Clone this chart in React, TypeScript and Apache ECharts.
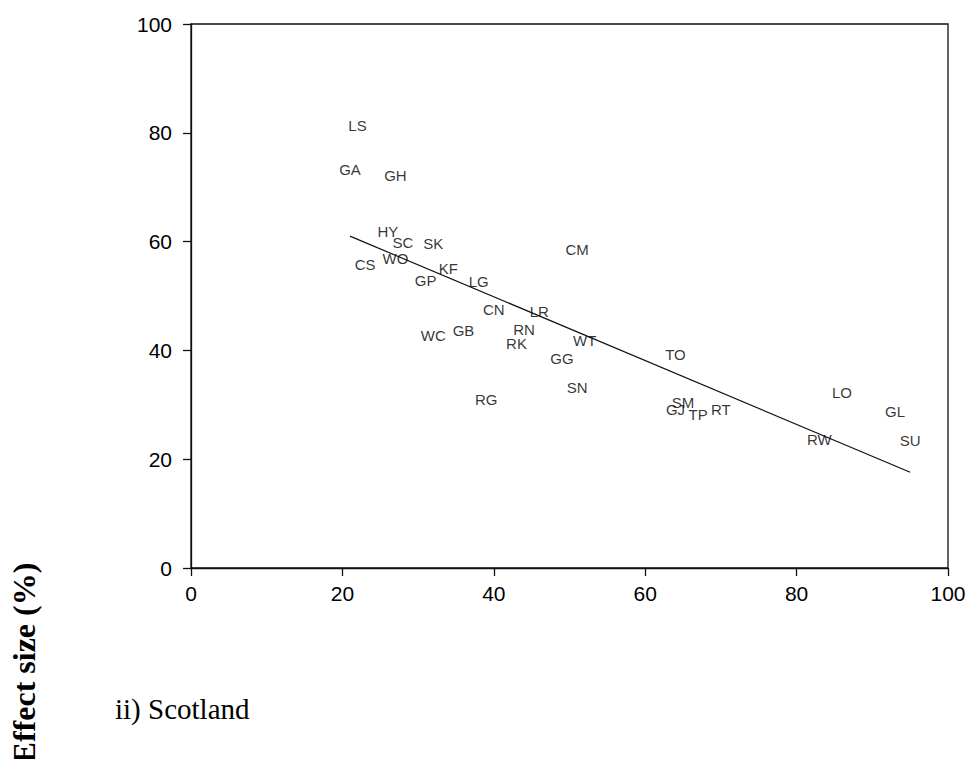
import React, { useEffect, useRef } from "react";
import * as echarts from "echarts";

const siteCodes = ["LS", "GA", "GH", "HY", "SC", "SK", "CM", "CS", "WO", "KF", "GP", "LG", "CN", "LR", "WC", "GB", "RN", "RK", "WT", "GG", "TO", "SN", "RG", "SM", "GJ", "TP", "RT", "LO", "GL", "RW", "SU"];
const xValues = [22, 21, 27, 26, 28, 32, 51, 23, 27, 34, 31, 38, 40, 46, 32, 36, 44, 43, 52, 49, 64, 51, 39, 65, 64, 67, 70, 86, 93, 83, 95];
const yValues = [81.3, 73.2, 72.2, 61.8, 59.9, 59.6, 58.6, 55.7, 56.9, 55.1, 52.8, 52.6, 47.5, 47.2, 42.8, 43.7, 43.9, 41.2, 41.8, 38.5, 39.3, 33.2, 30.9, 30.5, 29.2, 28.3, 29.2, 32.2, 28.7, 23.7, 23.5];
const trendX = [21, 95];
const trendY = [61.0, 17.6];
const xTicks = [0, 20, 40, 60, 80, 100];
const yTicks = [0, 20, 40, 60, 80, 100];
const yTitle = "Effect size (%)";
const panelTitle = "ii) Scotland";

export default function App() {
  const ref = useRef<HTMLDivElement>(null);
  useEffect(() => {
    if (!ref.current) return;
    const chart = echarts.init(ref.current, undefined, { renderer: "svg" });
    const pts = siteCodes.map((n, i) => ({ name: n, value: [xValues[i], yValues[i]] }));
    const axisCommon = {
      axisLine: { show: true, lineStyle: { color: "#111", width: 1.3 } },
      axisTick: { show: true, length: 8, lineStyle: { color: "#111", width: 1.3 } },
      splitLine: { show: false },
      axisLabel: { color: "#000", fontSize: 21, fontFamily: "Liberation Sans, Arial, sans-serif" },
    };
    chart.setOption({
      animation: false,
      backgroundColor: "#fff",
      grid: { left: 191, top: 24, right: 21, bottom: 191, show: true, borderColor: "#111", borderWidth: 1.3, backgroundColor: "transparent" },
      xAxis: {
        type: "value", min: xTicks[0], max: xTicks[xTicks.length - 1], interval: 20,
        ...axisCommon,
        axisLabel: { ...axisCommon.axisLabel, margin: 15 },
      },
      yAxis: {
        type: "value", min: yTicks[0], max: yTicks[yTicks.length - 1], interval: 20,
        ...axisCommon,
        axisLabel: { ...axisCommon.axisLabel, margin: 19 },
      },
      series: [
        {
          type: "scatter",
          data: pts,
          symbolSize: 1,
          itemStyle: { color: "transparent" },
          label: {
            show: true, position: "inside", formatter: "{b}", color: "#000",
            fontSize: 15, fontFamily: "Liberation Sans, Arial, sans-serif",
          },
          silent: true,
        },
        {
          type: "line",
          data: trendX.map((x, i) => [x, trendY[i]]),
          showSymbol: false,
          symbol: "none",
          lineStyle: { color: "#111", width: 1.2 },
          silent: true,
        },
      ],
      graphic: [
        {
          type: "text", x: 24, y: 663, rotation: Math.PI / 2,
          style: { text: yTitle, fontSize: 32, fontWeight: "bold", fontFamily: "Liberation Serif, Times New Roman, serif", fill: "#000", align: "center", verticalAlign: "middle" },
        },
        {
          type: "text", x: 115, y: 709,
          style: { text: panelTitle, fontSize: 29, fontFamily: "Liberation Serif, Times New Roman, serif", fill: "#000", align: "left", verticalAlign: "middle" },
        },
      ],
    });
    return () => chart.dispose();
  }, []);
  return <div ref={ref} style={{ position: "fixed", left: 0, top: 0, width: 969, height: 759 }} />;
}
